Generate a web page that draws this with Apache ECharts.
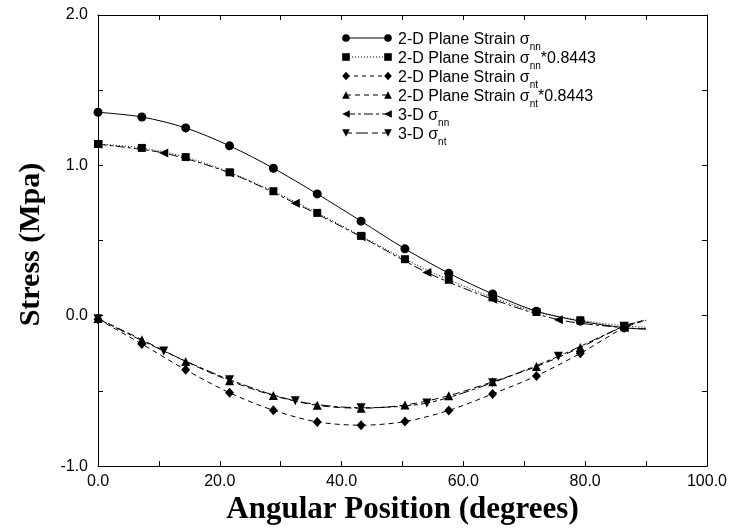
<!DOCTYPE html>
<html>
<head>
<meta charset="utf-8">
<script src="https://cdn.jsdelivr.net/npm/echarts@6/dist/echarts.min.js"></script>
<style>
  html, body { margin: 0; padding: 0; background: #fff; }
  #chart { width: 730px; height: 530px; }
</style>
</head>
<body>
<div id="chart"></div>
<script>
// Angular positions (degrees) of the 2-D and 3-D result points
const angle2D = [0, 7.2, 14.4, 21.6, 28.8, 36.0, 43.2, 50.4, 57.6, 64.8, 72.0, 79.2, 86.4];
const angle3D = [0, 10.8, 21.6, 32.4, 43.2, 54.0, 64.8, 75.6, 86.4];

// Stress values (MPa)
const nn2D       = [1.353, 1.322, 1.249, 1.130, 0.981, 0.810, 0.629, 0.445, 0.283, 0.145, 0.030, -0.036, -0.080];
const nn2DScaled = [1.142, 1.116, 1.055, 0.954, 0.828, 0.684, 0.531, 0.376, 0.239, 0.122, 0.025, -0.030, -0.068];
const nt2D       = [-0.023, -0.188, -0.360, -0.512, -0.629, -0.706, -0.728, -0.704, -0.630, -0.520, -0.400, -0.250, -0.080];
const nt2DScaled = [-0.019, -0.159, -0.304, -0.432, -0.531, -0.596, -0.615, -0.594, -0.532, -0.439, -0.338, -0.211, -0.068];
const nn3D       = [1.140, 1.082, 0.950, 0.748, 0.525, 0.288, 0.110, -0.026, -0.080];
const nt3D       = [-0.020, -0.235, -0.425, -0.566, -0.612, -0.581, -0.445, -0.270, -0.070];

// Curve values at the 90 degree end (no marker drawn there)
const endValues = [-0.090, -0.076, -0.030, -0.028, -0.085, -0.030];

// Axis tick labels
const xTickLabels = ['0.0', '20.0', '40.0', '60.0', '80.0', '100.0'];
const yTickLabels = ['-1.0', '0.0', '1.0', '2.0'];

const SANS = 'Liberation Sans, Arial, sans-serif';
const SERIF = 'Liberation Serif, Times New Roman, serif';

const seriesDefs = [
  { name: '2-D Plane Strain σnn',        xs: angle2D, ys: nn2D,       symbol: 'circle',   size: 9,       rotate: 0,   dash: 'solid' },
  { name: '2-D Plane Strain σnn*0.8443', xs: angle2D, ys: nn2DScaled, symbol: 'rect',     size: 8,       rotate: 0,   dash: [1, 2] },
  { name: '2-D Plane Strain σnt',        xs: angle2D, ys: nt2D,       symbol: 'diamond',  size: [9, 10], rotate: 0,   dash: [5, 4] },
  { name: '2-D Plane Strain σnt*0.8443', xs: angle2D, ys: nt2DScaled, symbol: 'triangle', size: 9,       rotate: 0,   dash: [7, 4] },
  { name: '3-D σnn',                     xs: angle3D, ys: nn3D,       symbol: 'triangle', size: 9,       rotate: 90,  dash: [9, 3, 3, 3] },
  { name: '3-D σnt',                     xs: angle3D, ys: nt3D,       symbol: 'triangle', size: 9,       rotate: 180, dash: [10, 3, 4, 3] }
];

const series = seriesDefs.map((d, k) => {
  const data = d.xs.map((x, i) => [x, d.ys[i]]);
  data.push({ value: [90, endValues[k]], symbol: 'none' });
  return {
    type: 'line',
    name: d.name,
    data: data,
    xAxisIndex: 0,
    yAxisIndex: 0,
    smooth: 0.3,
    symbol: d.symbol,
    symbolSize: d.size,
    symbolRotate: d.rotate,
    showAllSymbol: true,
    lineStyle: { color: '#000', width: 1, type: d.dash },
    itemStyle: { color: '#000' },
    emphasis: { disabled: true },
    z: 3 + k
  };
});

// Legend drawn as graphic rows: line sample with a marker at each end
const LX1 = 346, LX2 = 388, TX = 398, ROW0 = 38, ROWH = 19;
function marker(kind, cx, cy) {
  const s = 3.8;
  const fill = { fill: '#000' };
  if (kind === 'circle') return { type: 'circle', shape: { cx, cy, r: s }, style: fill };
  if (kind === 'rect') return { type: 'rect', shape: { x: cx - s, y: cy - s, width: 2 * s, height: 2 * s }, style: fill };
  if (kind === 'diamond') return { type: 'polygon', shape: { points: [[cx, cy - s - 0.5], [cx + s, cy], [cx, cy + s + 0.5], [cx - s, cy]] }, style: fill };
  if (kind === 'up') return { type: 'polygon', shape: { points: [[cx, cy - s], [cx + s, cy + s], [cx - s, cy + s]] }, style: fill };
  if (kind === 'left') return { type: 'polygon', shape: { points: [[cx - s, cy], [cx + s, cy - s], [cx + s, cy + s]] }, style: fill };
  return { type: 'polygon', shape: { points: [[cx, cy + s], [cx + s, cy - s], [cx - s, cy - s]] }, style: fill };
}
const legendRows = [
  { mark: 'circle',  dash: null,          text: '{m|2-D Plane Strain σ}{s|nn}' },
  { mark: 'rect',    dash: [1, 2],        text: '{m|2-D Plane Strain σ}{s|nn}{m|*0.8443}' },
  { mark: 'diamond', dash: [4, 4],        text: '{m|2-D Plane Strain σ}{s|nt}' },
  { mark: 'up',      dash: [5, 4],        text: '{m|2-D Plane Strain σ}{s|nt}{m|*0.8443}' },
  { mark: 'left',    dash: [9, 3, 3, 3],  text: '{m|3-D σ}{s|nn}' },
  { mark: 'down',    dash: [6, 4, 12, 4], text: '{m|3-D σ}{s|nt}' }
];
const graphics = [];
legendRows.forEach((r, i) => {
  const y = ROW0 + i * ROWH;
  graphics.push({
    type: 'line',
    shape: { x1: LX1, y1: y, x2: LX2, y2: y },
    style: { stroke: '#000', lineWidth: 1, lineDash: r.dash || null }
  });
  graphics.push(marker(r.mark, LX1, y));
  graphics.push(marker(r.mark, LX2, y));
  graphics.push({
    type: 'text',
    x: TX,
    y: y + 2,
    style: {
      text: r.text,
      verticalAlign: 'middle',
      fill: '#000',
      rich: {
        m: { fontFamily: SANS, fontSize: 16, lineHeight: 24, fill: '#000' },
        s: { fontFamily: SANS, fontSize: 10, verticalAlign: 'bottom', fill: '#000' }
      }
    }
  });
});

function fmt(v) { return (Math.round(v * 10) / 10).toFixed(1); }

const axisLine = { show: true, onZero: false, lineStyle: { color: '#000', width: 1 } };
const axisTick = { show: true, inside: true, length: 5, lineStyle: { color: '#000', width: 1 } };

const option = {
  animation: false,
  backgroundColor: '#fff',
  grid: { left: 98, right: 22, top: 15, bottom: 52, containLabel: false },
  xAxis: [
    {
      type: 'value', min: 0, max: 100, interval: 10, position: 'bottom',
      axisLine, axisTick, splitLine: { show: false },
      axisLabel: {
        show: true, margin: 7, color: '#000', fontFamily: SANS, fontSize: 16,
        formatter: v => (xTickLabels.indexOf(fmt(v)) >= 0 ? fmt(v) : '')
      },
      name: 'Angular Position (degrees)', nameLocation: 'middle', nameGap: 23,
      nameTextStyle: { fontFamily: SERIF, fontWeight: 'bold', fontSize: 31, color: '#000' }
    },
    {
      type: 'value', min: 0, max: 100, interval: 10, position: 'top',
      axisLine, axisTick, axisLabel: { show: false }, splitLine: { show: false }
    }
  ],
  yAxis: [
    {
      type: 'value', min: -1, max: 2, interval: 0.5, position: 'left',
      axisLine, axisTick, splitLine: { show: false },
      axisLabel: {
        show: true, margin: 10, color: '#000', fontFamily: SANS, fontSize: 16,
        formatter: v => (yTickLabels.indexOf(fmt(v)) >= 0 ? fmt(v) : '')
      },
      name: 'Stress (Mpa)', nameLocation: 'middle', nameGap: 52,
      nameTextStyle: { fontFamily: SERIF, fontWeight: 'bold', fontSize: 30, color: '#000', padding: [0, 8, 0, 0] }
    },
    {
      type: 'value', min: -1, max: 2, interval: 0.5, position: 'right',
      axisLine, axisTick, axisLabel: { show: false }, splitLine: { show: false }
    }
  ],
  series: series,
  graphic: graphics
};

const chart = echarts.init(document.getElementById('chart'), null, { renderer: 'canvas' });
chart.setOption(option);
</script>
</body>
</html>
